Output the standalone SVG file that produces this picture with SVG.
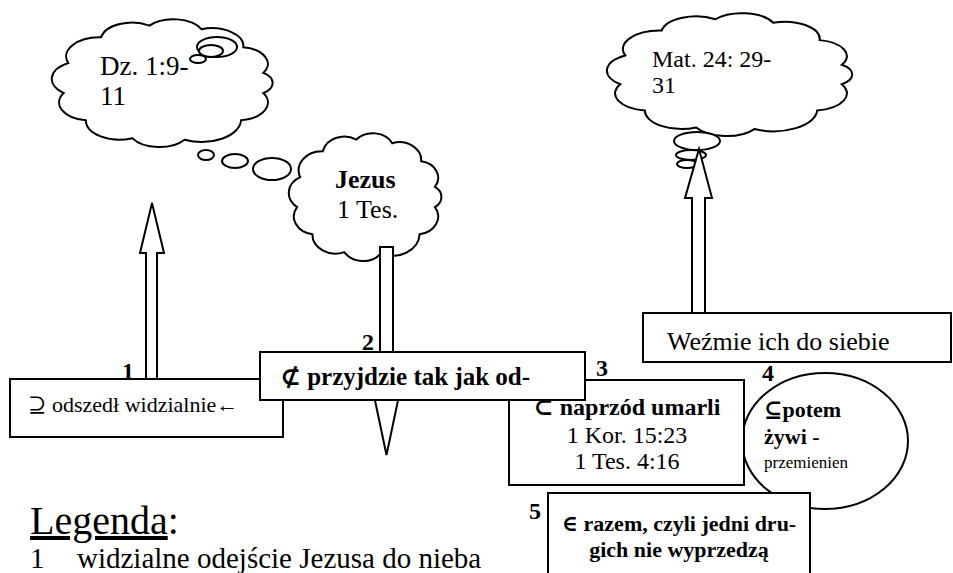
<svg xmlns="http://www.w3.org/2000/svg" width="953" height="573" viewBox="0 0 953 573">
<style>
.s{fill:#fff;stroke:#000;stroke-width:2}
.c{fill:#fff;stroke:#000;stroke-width:2;vector-effect:non-scaling-stroke}
text{font-family:"Liberation Serif","Times New Roman","DejaVu Serif",serif;fill:#000}
.b{font-weight:bold}
.lab{font-weight:bold;font-size:24px}
</style>
<defs>
<path id="cloud" class="c" d="M98.5,17.4 A31,31 0 0 1 76.6,64.3 A39,39 0 0 1 20.8,97.8 A31,31 0 0 1 -30.9,95.1 A33,33 0 0 1 -76.6,64.3 A31,31 0 0 1 -98.5,17.4 A31,31 0 0 1 -94,-34.2 A33,33 0 0 1 -61.6,-78.8 A31,31 0 0 1 -13.9,-99 A31,31 0 0 1 37.5,-92.7 A31,31 0 0 1 78.8,-61.6 A29,29 0 0 1 98.5,-17.4 A21,21 0 0 1 98.5,17.4 Z"/>
<clipPath id="clip5"><rect x="548" y="493" width="263" height="70"/></clipPath>
</defs>
<rect width="953" height="573" fill="#fff"/>

<g id="cloud-dz">
<use href="#cloud" transform="translate(163.5,83) scale(1.013,0.58)"/>
<ellipse class="s" cx="217" cy="47" rx="20" ry="10"/>
<ellipse class="s" cx="211" cy="51" rx="12" ry="6"/>
<ellipse class="s" cx="198" cy="59" rx="8" ry="4"/>
<text x="100" y="75" font-size="27">Dz. 1:9-</text>
<text x="100" y="105" font-size="27">11</text>
</g>

<g id="thought-bubbles">
<ellipse class="s" cx="206" cy="155" rx="8" ry="5"/>
<ellipse class="s" cx="235" cy="161" rx="13" ry="7"/>
<ellipse class="s" cx="272" cy="169" rx="19" ry="11"/>
</g>

<g id="cloud-jezus">
<use href="#cloud" transform="translate(366,197) scale(0.7,0.58)"/>
<text x="335" y="188" font-size="26" class="b">Jezus</text>
<text x="337" y="218" font-size="26">1 Tes.</text>
</g>

<g id="cloud-mat">
<use href="#cloud" transform="translate(731,74.5) scale(1.125,0.558)"/>
<ellipse class="s" cx="697" cy="141" rx="23" ry="9"/>
<ellipse class="s" cx="691" cy="155" rx="15" ry="5"/>
<ellipse class="s" cx="687" cy="164" rx="10" ry="4"/>
<text x="652" y="67" font-size="24">Mat. 24: 29-</text>
<text x="652" y="93" font-size="24">31</text>
</g>

<g id="connectors">
<path class="s" d="M146,379 L146,253 L140,253 L152,203 L164,253 L157,253 L157,379"/>
<path class="s" d="M380,247 L393,247 L393,372 L404,372 L386.5,455 L369,372 L380,372 Z"/>
<path class="s" d="M692,313 L692,198 L685,198 L699,149 L712,198 L705,198 L705,313"/>
</g>

<g id="box1">
<rect class="s" x="10" y="379" width="273" height="58"/>
<text x="28" y="412" font-size="22">⊇ odszedł widzialnie←</text>
<text x="122" y="379" class="lab">1</text>
</g>

<g id="oval4">
<ellipse class="s" cx="825" cy="441" rx="83" ry="68"/>
<text x="764" y="417" font-size="22" class="b">⊆potem</text>
<text x="764" y="444" font-size="22" class="b">żywi -</text>
<text x="764" y="468" font-size="17">przemienien</text>
<text x="762" y="381" class="lab">4</text>
</g>

<g id="box3">
<rect class="s" x="509" y="380" width="235" height="105"/>
<text x="627" y="415" font-size="24" class="b" text-anchor="middle">⊂ naprzód umarli</text>
<text x="627" y="443" font-size="24" text-anchor="middle">1 Kor. 15:23</text>
<text x="627" y="469" font-size="24" text-anchor="middle">1 Tes. 4:16</text>
<text x="596" y="376" class="lab">3</text>
</g>

<g id="box2">
<rect class="s" x="260" y="352" width="325" height="48"/>
<text x="280" y="385" font-size="25" class="b">⊄ przyjdzie tak jak od-</text>
<text x="362" y="350" class="lab">2</text>
</g>

<g id="box-wezmie">
<rect class="s" x="643" y="313" width="308" height="49"/>
<text x="667" y="350" font-size="26">Weźmie ich do siebie</text>
</g>

<g id="box5">
<path class="s" d="M548,573 L548,493 L810,493 L810,573"/>
<g clip-path="url(#clip5)">
<text x="679" y="531" font-size="22" class="b" text-anchor="middle">∈ razem, czyli jedni dru-</text>
<text x="679" y="557" font-size="22" class="b" text-anchor="middle">gich nie wyprzedzą</text>
</g>
<text x="529" y="519" class="lab" font-size="25">5</text>
</g>

<g id="legend">
<text x="30" y="534" font-size="40"><tspan text-decoration="underline">Legenda</tspan>:</text>
<text x="30" y="568" font-size="29">1</text>
<text x="77" y="568" font-size="29">widzialne odejście Jezusa do nieba</text>
</g>
</svg>
